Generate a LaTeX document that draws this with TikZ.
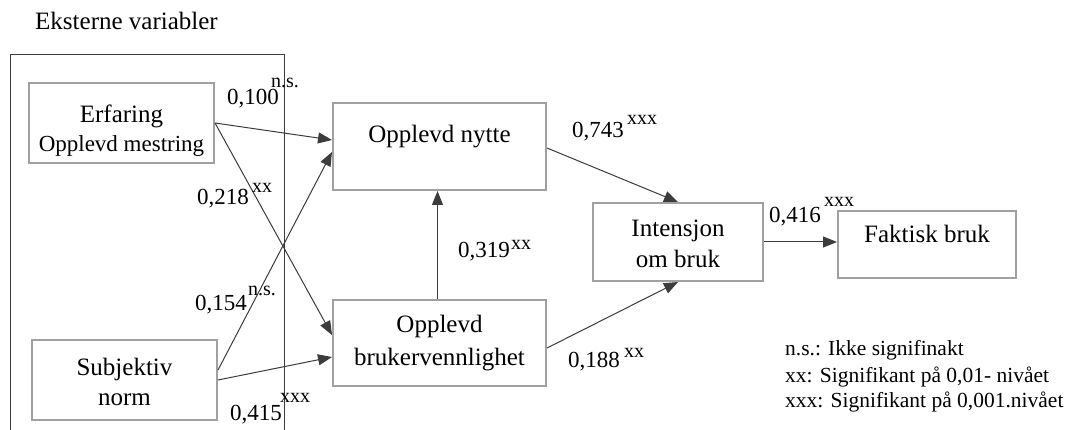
\documentclass[tikz,border=0pt]{standalone}
\usepackage{fontspec}
\setmainfont{Liberation Serif}
\usetikzlibrary{arrows.meta}
\definecolor{boxgray}{HTML}{A0A0A0}
\definecolor{linegray}{HTML}{3C3C3C}
\newcommand{\fs}[1]{\fontsize{#1}{#1}\selectfont}
\begin{document}
\begin{tikzpicture}[x=1pt,y=-1pt,
  box/.style={draw=boxgray,line width=2pt,rectangle,inner sep=0pt},
  txt/.style={anchor=base,inner sep=0pt,font=\fs{25}},
  num/.style={anchor=base west,inner sep=0pt,font=\fs{23}},
  sig/.style={anchor=base west,inner sep=0pt,font=\fs{20}},
  legend/.style={anchor=base west,inner sep=0pt,font=\fs{21.5}},
  link/.style={draw=linegray,line width=1pt,-{Triangle[length=14pt,width=11pt]}}]
\useasboundingbox (0,0) rectangle (1070,430);
\fill[white] (0,0) rectangle (1070,430);

% group of external variables
\node[anchor=base west,inner sep=0pt,font=\fs{25}] (title) at (35,30) {Eksterne variabler};
\draw[draw=linegray,line width=1pt] (10,430) -- (10,55) -- (284,55) -- (284,430);

% boxes
\node[box,minimum width=185pt,minimum height=80pt] (erf) at (121.5,123) {};
\node[box,minimum width=185pt,minimum height=80pt] (subj) at (124.5,380) {};
\node[box,minimum width=213pt,minimum height=87pt] (nytte) at (439.5,146.5) {};
\node[box,minimum width=213pt,minimum height=86pt] (bruk) at (439.5,343) {};
\node[box,minimum width=170pt,minimum height=78pt] (int) at (678,242) {};
\node[box,minimum width=178pt,minimum height=67pt] (fak) at (927,244.5) {};

% box texts
\node[txt] (erfA) at (121.5,123) {Erfaring};
\node[txt,font=\fs{23}] (erfB) at (121.5,152) {Opplevd mestring};
\node[txt] (subjA) at (124.5,375) {Subjektiv};
\node[txt] (subjB) at (124.5,405) {norm};
\node[txt] (nytteA) at (439.5,143) {Opplevd nytte};
\node[txt] (brukA) at (439.5,332) {Opplevd};
\node[txt] (brukB) at (439.5,365) {brukervennlighet};
\node[txt] (intA) at (678,237) {Intensjon};
\node[txt] (intB) at (678,268) {om bruk};
\node[txt] (fakA) at (927,243) {Faktisk bruk};

% paths
\draw[link] (erf.east) -- ([yshift=6.5pt]nytte.west);
\draw[link] (erf.east) -- ([yshift=8pt]bruk.west);
\draw[link] ([yshift=10pt]subj.east) -- ([yshift=-5.5pt]nytte.west);
\draw[link] (subj.east) -- ([yshift=-14pt]bruk.west);
\draw[link] ([xshift=-2pt]bruk.north) -- ([xshift=-2pt]nytte.south);
\draw[link] ([yshift=-1.5pt]nytte.east) -- (int.north);
\draw[link] ([yshift=-5pt]bruk.east) -- (int.south);
\draw[link] (int.east) -- (int.east -| fak.west);

% coefficients
\node[num] (c1) at (227,105) {0,100};
\node[sig] (s1) at (271,88) {n.s.};
\node[num] (c2) at (197,205) {0,218};
\node[sig] (s2) at (252,193) {xx};
\node[num] (c3) at (195,310) {0,154};
\node[sig] (s3) at (248,295) {n.s.};
\node[num] (c4) at (230,420) {0,415};
\node[sig] (s4) at (280,402) {xxx};
\node[num] (c5) at (458,258) {0,319};
\node[sig] (s5) at (511,250) {xx};
\node[num] (c6) at (572,138) {0,743};
\node[sig] (s6) at (627,125) {xxx};
\node[num] (c7) at (568,367) {0,188};
\node[sig] (s7) at (624,357) {xx};
\node[num] (c8) at (769,223) {0,416};
\node[sig] (s8) at (824,207) {xxx};

% key
\node[legend] (k1) at (785,355) {n.s.: Ikke signifinakt};
\node[legend] (k2) at (785,382) {xx: Signifikant på 0,01- nivået};
\node[legend] (k3) at (785,407) {xxx: Signifikant på 0,001.nivået};
\end{tikzpicture}
\end{document}
